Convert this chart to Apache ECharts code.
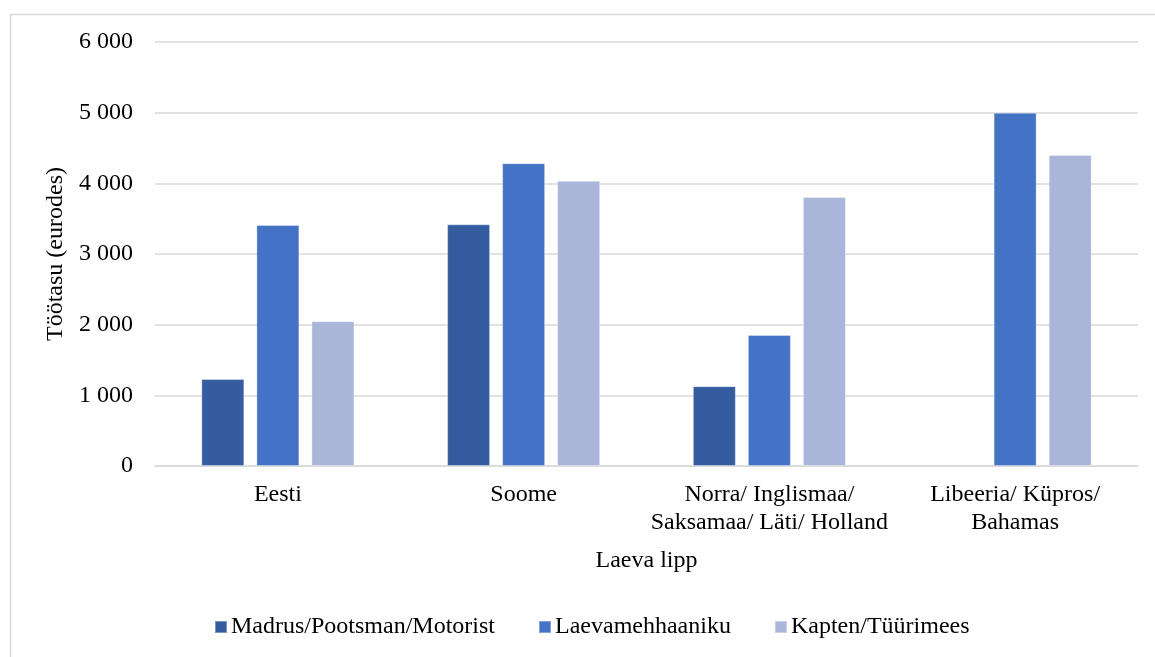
<!DOCTYPE html>
<html lang="et" style="height: 100%">
<head>
  <meta charset="utf-8">
</head>
<body style="height: 100%; margin: 0; background: #fff">
  <div id="container" style="width: 1155px; height: 657px"></div>

  <script type="text/javascript" src="https://cdn.jsdelivr.net/npm/echarts@6/dist/echarts.min.js"></script>

  <script type="text/javascript">
    var dom = document.getElementById('container');
    var myChart = echarts.init(dom, null, { renderer: 'canvas' });

    // andmed
    const categories = [
      'Eesti',
      'Soome',
      'Norra/ Inglismaa/\nSaksamaa/ Läti/ Holland',
      'Libeeria/ Küpros/\nBahamas'
    ];
    const seriesNames = ['Madrus/Pootsman/Motorist', 'Laevamehhaaniku', 'Kapten/Tüürimees'];
    const madrus = [1230, 3420, 1130, null];
    const mehhaanik = [3410, 4285, 1855, 5000];
    const kapten = [2050, 4035, 3805, 4400];
    const yTicks = [0, 1000, 2000, 3000, 4000, 5000, 6000];

    const colors = ['#355C9F', '#4472C4', '#A9B6DA'];
    const font = '"Liberation Serif", "Times New Roman", serif';

    function fmt(v) {
      return String(v).replace(/\B(?=(\d{3})+(?!\d))/g, ' ');
    }

    const seriesData = [madrus, mehhaanik, kapten];

    var option = {
      animation: false,
      textStyle: { fontFamily: font },
      color: colors,
      graphic: [{
        type: 'rect',
        left: 8,
        top: 12,
        shape: { width: 1200, height: 700 },
        style: { fill: 'none', stroke: '#d9d9d9', lineWidth: 1.5 },
        silent: true
      }],
      grid: {
        left: 155,
        right: 17,
        top: 42,
        bottom: 191,
        containLabel: false
      },
      legend: {
        bottom: 13,
        left: 209,
        itemWidth: 12,
        itemHeight: 12,
        itemGap: 43,
        icon: 'rect',
        textStyle: { fontFamily: font, fontSize: 24, color: '#000', padding: [0, 0, 0, -1] },
        data: seriesNames
      },
      xAxis: {
        type: 'category',
        data: categories,
        name: 'Laeva lipp',
        nameLocation: 'middle',
        nameGap: 83,
        nameTextStyle: { fontFamily: font, fontSize: 24, color: '#000' },
        axisLine: { lineStyle: { color: '#d9d9d9', width: 1.5 } },
        axisTick: { show: false },
        axisLabel: {
          interval: 0,
          margin: 15,
          fontFamily: font,
          fontSize: 24,
          lineHeight: 28,
          color: '#000'
        }
      },
      yAxis: {
        type: 'value',
        min: 0,
        max: 6000,
        interval: 1000,
        name: 'Töötasu (eurodes)',
        nameLocation: 'middle',
        nameGap: 86,
        nameTextStyle: { fontFamily: font, fontSize: 24, color: '#000' },
        axisLine: { show: false },
        axisTick: { show: false },
        splitLine: { lineStyle: { color: '#d9d9d9', width: 1.5 } },
        axisLabel: {
          margin: 22,
          fontFamily: font,
          fontSize: 24,
          color: '#000',
          customValues: yTicks,
          formatter: function (v) { return fmt(v); }
        }
      },
      series: seriesNames.map(function (name, i) {
        return {
          name: name,
          type: 'bar',
          data: seriesData[i],
          barWidth: 43,
          barGap: '28%',
          itemStyle: {
            color: colors[i],
            borderColor: 'rgba(255,255,255,0.35)',
            borderWidth: 1
          }
        };
      })
    };

    myChart.setOption(option);
    window.addEventListener('resize', myChart.resize);
  </script>
</body>
</html>
